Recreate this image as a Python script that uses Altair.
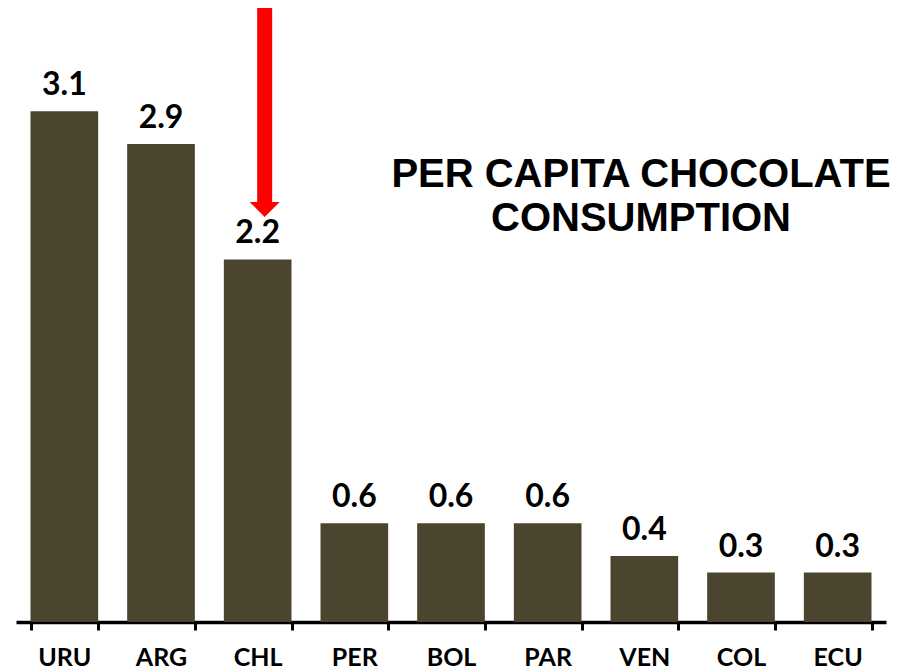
import altair as alt
import pandas as pd

countries = ["URU", "ARG", "CHL", "PER", "BOL", "PAR", "VEN", "COL", "ECU"]
values = [3.1, 2.9, 2.2, 0.6, 0.6, 0.6, 0.4, 0.3, 0.3]
title_lines = ["PER CAPITA CHOCOLATE", "CONSUMPTION"]

# arrow annotation pointing at CHL (values on the y scale)
arrow_country = ["CHL"]
arrow_top = [3.726]
arrow_head = [2.549]

bar_color = "#4B4530"
y_max = 3.726

df = pd.DataFrame({"country": countries, "value": values})
arrow_df = pd.DataFrame({"country": arrow_country, "top": arrow_top, "head": arrow_head})

x_enc = alt.X(
    "country:N",
    sort=countries,
    scale=alt.Scale(paddingInner=0.3, paddingOuter=0.15),
    axis=alt.Axis(
        title=None,
        labelAngle=0,
        labelFont="Lato",
        labelFontWeight="bold",
        labelFontSize=25,
        labelColor="black",
        labelPadding=15,
        domainColor="black",
        domainWidth=3.5,
        tickColor="black",
        tickWidth=3,
        tickSize=8,
        tickBand="extent",
        grid=False,
    ),
)
y_scale = alt.Scale(domain=[0, y_max], nice=False, zero=True)

bars = alt.Chart(df).mark_bar(color=bar_color).encode(
    x=x_enc,
    y=alt.Y("value:Q", scale=y_scale, axis=None),
)

labels = alt.Chart(df).mark_text(
    font="Lato", fontWeight="bold", fontSize=32, color="black",
    baseline="alphabetic", dy=-16,
).encode(
    x=alt.X("country:N", sort=countries),
    y=alt.Y("value:Q", scale=y_scale),
    text=alt.Text("value:Q", format=".1f"),
)

shaft = alt.Chart(arrow_df).mark_rule(color="#FF0000", strokeWidth=15, xOffset=7).encode(
    x=alt.X("country:N", sort=countries),
    y=alt.Y("top:Q", scale=y_scale),
    y2="head:Q",
)

head = alt.Chart(arrow_df).mark_point(
    shape="M-1,0L1,0L0,1Z", filled=True, color="#FF0000", opacity=1,
    size=900, xOffset=7, strokeWidth=0,
).encode(
    x=alt.X("country:N", sort=countries),
    y=alt.Y("head:Q", scale=y_scale),
)

title_df = pd.DataFrame({"t": ["\n".join(title_lines)]})
title = alt.Chart(title_df).mark_text(
    font="Liberation Sans", fontWeight="bold", fontSize=40, color="black",
    align="center", baseline="alphabetic", lineBreak="\n", lineHeight=44,
).encode(
    x=alt.value(625),
    y=alt.value(179),
    text="t:N",
)

chart = alt.layer(bars, labels, shaft, head, title).properties(
    width=870,
    height=614,
    background="white",
    autosize=alt.AutoSizeParams(type="none"),
    padding={"left": 8, "top": 0, "right": 20, "bottom": 60},
).configure_view(stroke=None, strokeWidth=0)

chart.save("out.html", embed_options={"renderer": "svg", "actions": False})
